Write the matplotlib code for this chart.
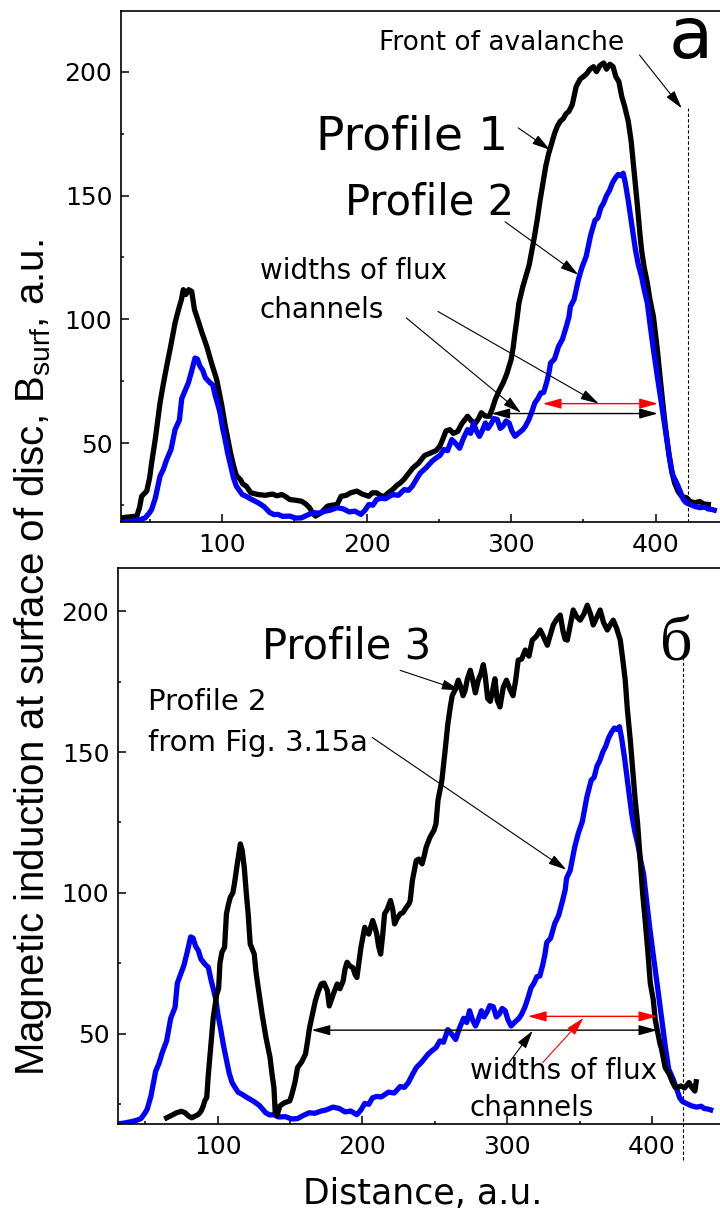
import matplotlib
matplotlib.use('Agg')
import matplotlib.pyplot as plt
from matplotlib import font_manager as fm
from matplotlib.ticker import MultipleLocator

# ---------------- data ----------------
# Profile 1 (panel a, black)
p1_x = [30, 35, 41.1, 43, 44.5, 48, 50, 51.4, 54, 57.2, 59.5, 61.8, 64.5, 67.6, 70, 72, 73.3, 75, 77, 79.1,
        81, 82.6, 86, 89.5, 93, 96.4, 100, 102, 104, 106, 108, 110, 112.7, 114.5, 116.8, 120, 125, 130, 135,
        138, 141.4, 144, 146.9, 151, 155.1, 158, 160.6, 162.5, 164.7, 168.7, 172.9, 176, 179.7, 182.4, 186,
        189, 193.3, 197, 201.6, 204, 207, 210, 212.5, 215, 218, 221, 223.4, 226, 228, 232, 236, 240, 244, 248,
        250.7, 253, 255, 257.6, 260, 263.1, 266, 269.9, 272.5, 275.4, 277.5, 279.4, 282, 284.9, 287, 289,
        291.5, 294.5, 297, 300, 301.5, 302.7, 304, 305.4, 308, 310.9, 312.5, 313.6, 316, 318, 320, 322, 324,
        326, 328, 330, 332, 334, 336, 338, 340, 342.3, 345, 347.8, 350, 352, 354.6, 357, 359, 361.5, 364,
        366, 368.3, 370.5, 372.4, 374.5, 376.5, 378.5, 381, 383, 385, 387, 389, 390.2, 392, 394.2, 396,
        398.4, 401.1, 403.9, 406.6, 409, 411, 413, 415.5, 418, 421.4, 424, 427, 430.6, 433, 436.4]
p1_y = [19.9, 20.2, 20.6, 24, 28.6, 30.7, 36, 42.1, 52, 66.3, 74, 81.1, 89, 98.6, 104, 108, 112, 110, 112,
        111.3, 104, 101.2, 95, 89.1, 82, 75.7, 65, 58, 52, 46, 41, 37, 35.4, 33.5, 32.7, 30, 29.3, 29, 29.5,
        28.8, 29.3, 28.5, 27.3, 27, 26.6, 25.5, 24, 22, 20.6, 22, 24.6, 25, 25.3, 28.6, 29, 30, 30.7, 29.5,
        28.6, 30, 30, 28.8, 28.6, 30, 31.3, 33, 34, 35.5, 37, 40, 42, 45, 46, 47, 48.8, 52, 55, 55.5, 54,
        54.8, 58, 60.9, 59, 58.2, 60, 62.3, 61, 60.9, 64, 67.6, 71, 74.4, 78, 83.8, 89, 94.6, 100, 106.6,
        113, 118.7, 122, 125.4, 133, 140, 148, 155, 162, 167, 171, 175, 178, 180, 181, 183, 184, 186.7, 194,
        197, 198, 199, 201, 202, 200, 202.5, 203.5, 201, 203, 202, 198, 196, 190, 186, 180, 172, 160, 148,
        135, 128, 121, 114.7, 108, 101.2, 87.8, 71.7, 57, 46, 39, 34, 30.5, 28.5, 28, 26.5, 26, 26.5, 25.5,
        25.3]

# Profile 2 (blue, shown in both panels)
p2_x = [30, 35, 40, 44, 47, 50, 51.4, 54, 57.2, 59.5, 61.8, 64.8, 67.6, 70.6, 72.2, 74, 76.8, 79, 81.4, 83,
        84.8, 86.7, 88.5, 91.8, 93.6, 95.5, 97, 98.7, 100.5, 102, 104, 106, 108, 110, 112, 114.1, 117, 120,
        125, 129, 133.2, 136, 138.7, 142, 146.9, 151, 155.1, 159, 163.3, 167, 171.5, 175, 179.7, 184, 188,
        192, 196.1, 199, 201.6, 204.4, 207, 210, 213, 218, 222, 226.1, 229, 231.7, 234.4, 237.2, 241, 245.4,
        248, 250.8, 253.5, 256, 259, 261.5, 264.4, 267, 269.9, 272, 274, 276, 278.1, 280, 282.2, 284, 286.3,
        288, 290.4, 292.5, 294.5, 296.5, 298.6, 300.5, 302.7, 305, 308.1, 310, 312.3, 314.5, 316.4, 318.5,
        320.5, 322.5, 324.5, 326, 327.3, 330, 332.8, 335.5, 338.2, 340, 341, 343.5, 346.5, 349, 351.9, 355,
        358, 360, 362, 364, 366, 368, 370, 372, 374, 376, 377.5, 379, 381, 383, 386, 388, 390.2, 392, 394.2,
        396.3, 398.4, 401.1, 403.9, 406.6, 409.3, 411.5, 414.5, 417, 419.1, 421, 423.7, 427, 430.6, 434,
        436, 438.7, 440.5]
p2_y = [18, 18.3, 18.8, 19.3, 19.9, 22, 23.3, 28, 36.7, 39.5, 43.4, 47.5, 55.5, 59.4, 68, 70.5, 74.4, 79,
        84.4, 84, 81.1, 79.5, 76.5, 74.4, 73.6, 69, 66, 62.3, 56, 52, 46, 41, 36, 32.7, 31, 29.3, 28.5, 27.5,
        26, 24.5, 22, 21.2, 21.3, 20.5, 20.6, 19.8, 19.9, 21, 22, 21.8, 22.6, 23, 24, 23.5, 22.3, 22.6, 21.3,
        23, 25.3, 25, 27.3, 27.8, 27.6, 29.3, 29, 31.3, 31, 32.7, 35.4, 38, 40, 42.8, 44, 45.1, 47.5, 47,
        51.5, 50, 48, 52, 55.5, 54, 58.2, 55, 52.8, 55, 58.2, 56, 58, 60, 59.6, 56, 57, 59, 58.2, 55, 52.8,
        54, 55.5, 57, 59.6, 63, 66.3, 68, 70.3, 70.5, 74.4, 78, 82.4, 84, 89.1, 92, 97.2, 101, 105.2, 108,
        116, 121, 125.4, 134, 140, 141, 145, 147, 150, 152, 155, 157, 158.5, 158, 159, 155, 148, 140, 128,
        122, 117.3, 112, 106.6, 97, 87.8, 77, 66.3, 55.5, 45, 37.5, 34, 30.5, 27.3, 26, 25.3, 24.5, 24,
        24.3, 23.5, 23.3, 23]

# Profile 3 (panel б, black)
p3_x = [64.8, 68, 71.7, 75, 77.5, 80, 82.1, 84.5, 86.7, 88.5, 90.1, 91.1, 92.5, 93.5, 95.2, 97, 99.4, 100.7,
        101.6, 103, 104.8, 106.1, 107.5, 108.8, 110.5, 111.6, 113.5, 115.7, 117, 118.4, 119.8, 121.1, 122.5,
        125.3, 126.5, 128, 130.7, 133.4, 136.2, 137.5, 138.9, 139.8, 141, 143, 146, 149.8, 151, 152.5, 153.5,
        155.2, 158, 160.7, 162, 163.5, 165.5, 167.5, 169.5, 171.6, 173.5, 175.8, 177.1, 178.5, 179.9, 182.6,
        184.5, 186.7, 188, 189.4, 191.5, 193.4, 195, 196.2, 197.5, 199, 201.6, 203, 204.4, 205.8, 207.1,
        208.5, 209.9, 211.2, 212.6, 214, 215.3, 217, 219.4, 221, 222.2, 224, 226.2, 228, 230.3, 232, 233,
        234.5, 237.2, 239, 241.2, 242.6, 244, 246.7, 249.4, 250.8, 252.2, 254.9, 257, 259, 260.7, 262, 264,
        266.2, 268, 269.5, 271, 272.5, 274.5, 276, 278, 280, 282, 283.5, 284.8, 286.5, 288.3, 290, 291.5,
        293.1, 295, 297.3, 299.5, 302.1, 304, 305.7, 307.6, 310, 312.5, 315, 317.3, 320, 322.8, 325, 327.7,
        330, 331.8, 334, 336.6, 338.5, 340, 341.5, 343.5, 345.6, 348, 350.4, 353, 355.3, 357.5, 359.4, 362,
        364.2, 366.5, 369.1, 371, 373.2, 375.5, 378.1, 380, 381.5, 383, 385, 386.8, 388.4, 390, 391.9, 393.5,
        395.3, 397, 398.8, 400.9, 402.2, 403.7, 405.7, 406.4, 409.1, 411.9, 414, 416, 418, 420, 422.5,
        425.5, 427.5, 429.6, 430.5]
p3_y = [20.2, 21, 22, 22.5, 22, 20.8, 20.2, 20.8, 21.4, 22.5, 24.4, 26.2, 27.4, 35, 45.1, 55.8, 64.1, 66,
        75, 79, 80.7, 92.6, 96, 98.5, 100, 103.2, 110, 117.4, 115, 109.1, 100, 92.6, 81.9, 78.3, 72, 66.5,
        57, 48.7, 41.6, 36, 30.9, 22, 21, 24.4, 25.5, 26.2, 28, 30.9, 33, 38, 40, 42.8, 47, 52.2, 57, 61.7,
        65, 67.7, 68, 65.3, 59.9, 62, 64.1, 67.7, 66, 68.8, 73, 75.4, 74, 73.5, 71, 70, 75, 80.7, 87.8, 86,
        85.4, 88, 90.2, 88, 85.4, 81, 78.3, 85, 92.6, 94, 97.3, 94, 89, 91, 92.6, 93, 94.9, 96, 97.3, 104.4,
        111.5, 112, 110.3, 113, 116.2, 119.8, 122.2, 124.5, 132.9, 140, 150, 160, 166, 170, 172, 175.5, 173,
        170, 172, 176, 179, 176, 171, 175.5, 178, 181, 177, 169, 168, 172, 176, 168.4, 166, 173, 175.5, 172,
        170, 175, 182.6, 183, 186.2, 184, 189.7, 191, 193.3, 191, 187.9, 192, 195.1, 197, 198.6, 193, 190,
        189.7, 195, 200.4, 198, 196.8, 199, 202.1, 199, 195.1, 198, 200.4, 196, 193.3, 195, 196.8, 194,
        189.7, 182, 175.5, 165, 154.2, 143, 132.8, 125, 111.5, 100, 90, 80, 68, 62, 55, 51.1, 46, 45.1, 38,
        35.7, 33, 31, 31, 31.5, 30.8, 32.7, 31, 29.7, 33]

x_ticks = [100, 200, 300, 400]
y_ticks = [50, 100, 150, 200]

# ---------------- fonts ----------------
def font_ok(name):
    try:
        fm.findfont(fm.FontProperties(family=name), fallback_to_default=False)
        return True
    except Exception:
        return False

plt.rcParams['font.family'] = ['DejaVu Sans']
if font_ok('Liberation Sans Narrow'):
    ylab_family, ylab_size = 'Liberation Sans Narrow', 34
else:
    ylab_family, ylab_size = 'Liberation Sans', 29
plt.rcParams['mathtext.fontset'] = 'custom'
plt.rcParams['mathtext.rm'] = ylab_family
serif = 'Liberation Serif' if font_ok('Liberation Serif') else 'DejaVu Serif'

# ---------------- figure ----------------
W, H = 720, 1211
fig = plt.figure(figsize=(W / 100, H / 100), dpi=100)


def px_axes(left, top, right, bottom):
    return [left / W, 1 - bottom / H, (right - left) / W, (bottom - top) / H]


ax1 = fig.add_axes(px_axes(120.7, 10.7, 120.7 + 420 * 1.446, 522.3))
ax1.set_xlim(30, 450)
ax1.set_ylim(18.1, 224.6)
ax2 = fig.add_axes(px_axes(117.7, 568.3, 117.7 + 419 * 1.448, 1124))
ax2.set_xlim(31, 450)
ax2.set_ylim(18, 215.2)

for ax in (ax1, ax2):
    ax.set_xticks(x_ticks)
    ax.set_yticks(y_ticks)
    ax.xaxis.set_minor_locator(MultipleLocator(50))
    ax.yaxis.set_minor_locator(MultipleLocator(25))
    ax.tick_params(which='both', direction='in', width=1.1, labelsize=18)
    ax.tick_params(which='major', length=6)
    ax.tick_params(which='minor', length=2.5)
    ax.tick_params(axis='x', pad=8)
    ax.tick_params(axis='y', pad=6)
    for s in ax.spines.values():
        s.set_linewidth(1.2)

LW = 3.8
ax1.plot(p1_x, p1_y, color='black', lw=LW, solid_joinstyle='round')
ax1.plot(p2_x, p2_y, color='#0000ff', lw=LW, solid_joinstyle='round')
ax2.plot(p2_x, p2_y, color='#0000ff', lw=LW, solid_joinstyle='round')
ax2.plot(p3_x, p3_y, color='black', lw=LW, solid_joinstyle='round')

# dotted "front" lines
ax1.plot([422.3, 422.3], [18.1, 185.3], color='black', lw=0.8, ls=(0, (3, 2)))
ax2.plot([421.4, 421.4], [5.2, 184.4], color='black', lw=0.8, ls=(0, (3, 2)), clip_on=False)

single = dict(arrowstyle='-|>,head_length=0.8,head_width=0.22', color='black', lw=0.8,
              shrinkA=0, shrinkB=0, mutation_scale=14)
double_k = dict(arrowstyle='<|-|>,head_length=0.8,head_width=0.22', color='black', lw=1.0,
                shrinkA=0, shrinkB=0, mutation_scale=14)
double_r = dict(double_k, color='red')
single_r = dict(single, color='red')

# ---- panel a ----
ax1.text(208.6, 208.8, 'Front of avalanche', fontsize=19, va='baseline')
ax1.annotate('', xy=(418.0, 185.2), xytext=(388.8, 206.7), arrowprops=single)
ax1.text(409.2, 205.4, 'a', fontsize=52, va='baseline')
ax1.text(165, 168.4, 'Profile 1', fontsize=34, va='baseline')
ax1.annotate('', xy=(327, 168.4), xytext=(304.9, 177.3), arrowprops=single)
ax1.text(185.1, 142.2, 'Profile 2', fontsize=30, va='baseline')
ax1.annotate('', xy=(346.5, 118), xytext=(295.8, 139.4), arrowprops=single)
ax1.text(126.3, 116.3, 'widths of flux', fontsize=20, va='baseline')
ax1.text(126.3, 100.6, 'channels', fontsize=20, va='baseline')
ax1.annotate('', xy=(306.8, 62.3), xytext=(227.5, 100.6), arrowprops=single)
ax1.annotate('', xy=(360.6, 66.0), xytext=(249.4, 103.2), arrowprops=single)
ax1.annotate('', xy=(401.6, 66.0), xytext=(321.8, 66.0), arrowprops=double_r)
ax1.annotate('', xy=(401.6, 62.0), xytext=(286.3, 62.0), arrowprops=double_k)

# ---- panel б ----
ax2.text(130.7, 183.3, 'Profile 3', fontsize=30, va='baseline')
ax2.annotate('', xy=(267.4, 171.9), xytext=(226, 179), arrowprops=single)
ax2.text(405.5, 182.6, 'б', fontsize=46, va='baseline', family=[serif, 'DejaVu Serif'])
ax2.text(51.9, 164.9, 'Profile 2', fontsize=21, va='baseline')
ax2.text(51.9, 150.3, 'from Fig. 3.15a', fontsize=21, va='baseline')
ax2.annotate('', xy=(340.9, 108.2), xytext=(206.7, 155.2), arrowprops=single)
ax2.annotate('', xy=(403.7, 56.2), xytext=(314.2, 56.2), arrowprops=double_r)
ax2.annotate('', xy=(403.7, 51.3), xytext=(164.8, 51.3), arrowprops=double_k)
ax2.text(274, 34, 'widths of flux', fontsize=20, va='baseline')
ax2.text(274, 20.8, 'channels', fontsize=20, va='baseline')
ax2.annotate('', xy=(317.6, 51.1), xytext=(301.3, 39.8), arrowprops=single)
ax2.annotate('', xy=(352.6, 55.6), xytext=(324.5, 39.8), arrowprops=single_r)

# axis labels
fig.text(423.1 / W, 1 - 1204 / H, 'Distance, a.u.', fontsize=25, ha='center', va='baseline')
fig.text(33.5 / W, 1 - 658 / H, r'Magnetic induction at surface of disc, B$_{\mathrm{surf}}$, a.u.',
         rotation=90, ha='center', va='center', fontsize=ylab_size, family=[ylab_family, 'DejaVu Sans'])

fig.savefig('out.png', dpi=100)
